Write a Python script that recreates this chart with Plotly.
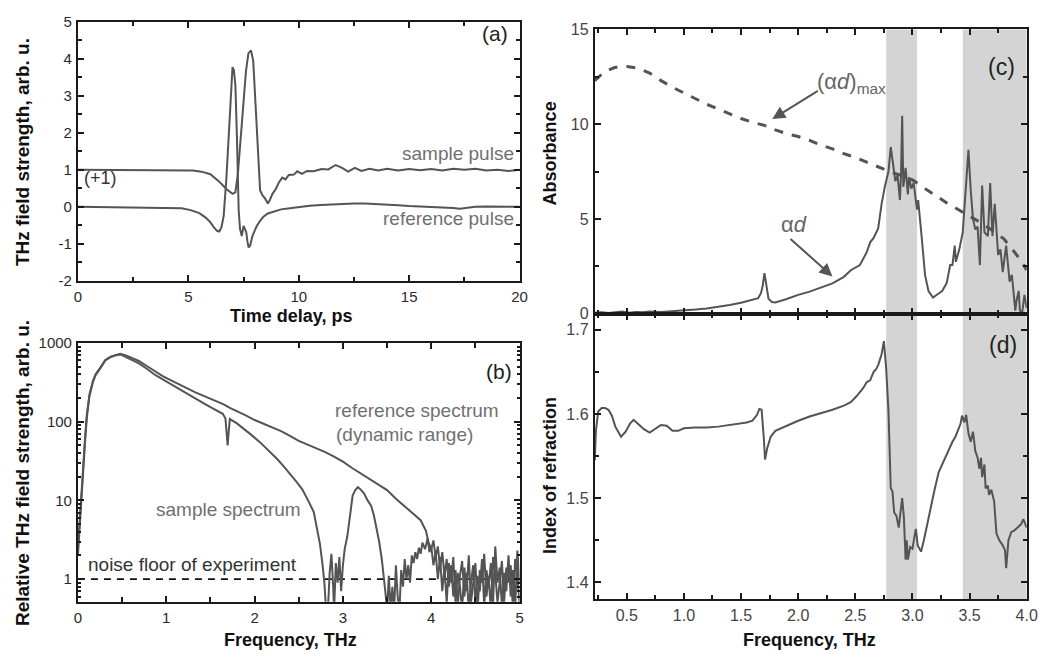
import plotly.graph_objects as go

# ---------------- panel (a): time-domain pulses ----------------
t_ref = [0, 2, 4, 4.7, 5.1, 5.5, 5.8, 6.0, 6.15, 6.3,
         6.4, 6.5, 6.6, 6.66, 6.72, 6.8, 6.87, 6.93, 7.0, 7.06,
         7.13, 7.2, 7.28, 7.34, 7.42, 7.5, 7.56, 7.62, 7.68, 7.73,
         7.8, 7.9, 8.0, 8.1, 8.25, 8.4, 8.6, 8.85, 9.2, 9.6,
         10.0, 10.5, 11.0, 11.5, 12.0, 12.5, 13.0, 13.5, 14.0, 14.5,
         15.0, 15.5, 16.0, 16.5, 17.0, 17.3, 17.6, 18.0, 18.5, 19.0,
         19.5, 20.0]
v_ref = [0.0, -0.01, -0.02, -0.04, -0.09, -0.17, -0.3, -0.42, -0.55, -0.65,
         -0.67, -0.55, -0.25, 0.2, 0.75, 1.6, 2.45, 3.3, 3.78, 3.7,
         3.3, 1.9, -0.1, -0.6, -0.79, -0.52, -0.6, -0.68, -0.95, -1.1,
         -1.05, -0.8, -0.65, -0.52, -0.38, -0.27, -0.18, -0.13, -0.07, -0.04,
         0.0, 0.03, 0.05, 0.07, 0.08, 0.09, 0.09, 0.08, 0.06, 0.04,
         0.02, 0.01, 0.0, 0.0, -0.03, -0.05, -0.02, 0.0, 0.01, 0.0,
         0.01, 0.0]

t_sam = [0, 2, 4, 4.7, 5.2, 5.6, 6.0, 6.4, 6.72, 7.0,
         7.13, 7.24, 7.34, 7.46, 7.61, 7.72, 7.84, 7.94, 8.06, 8.18,
         8.25, 8.36, 8.48, 8.6, 8.69, 8.81, 8.96, 9.1, 9.25, 9.4,
         9.55, 9.78, 9.93, 10.15, 10.37, 10.67, 11.04, 11.34, 11.67, 11.94,
         12.24, 12.54, 12.84, 13.2, 13.6, 14.0, 14.5, 15.0, 15.5, 16.0,
         16.5, 17.0, 17.5, 18.0, 18.5, 19.0, 19.5, 20.0]
v_sam = [1.0, 1.0, 1.0, 1.0, 0.98, 0.95, 0.88, 0.68, 0.48, 0.35,
         0.39, 0.87, 1.57, 2.62, 3.67, 4.15, 4.23, 3.94, 2.62, 1.14,
         0.44, 0.31, 0.22, 0.09, 0.18, 0.35, 0.48, 0.66, 0.79, 0.74,
         0.86, 0.87, 0.96, 0.89, 0.97, 0.96, 1.02, 1.01, 1.13, 1.06,
         0.95, 1.05, 0.97, 1.03, 0.98, 1.03, 0.98, 1.02, 0.99, 1.02,
         0.98, 1.03, 1.0, 1.03, 0.98, 1.0, 0.97, 1.0]

# ---------------- panel (b): spectra ----------------
spec_ref_f = [0.0, 0.02, 0.04, 0.06, 0.08, 0.1, 0.13, 0.17, 0.2, 0.25,
              0.31, 0.37, 0.43, 0.48, 0.55, 0.62, 0.69, 0.78, 0.87, 0.96,
              1.06, 1.15, 1.24, 1.33, 1.43, 1.54, 1.65, 1.72, 1.8, 1.9,
              2.0, 2.1, 2.2, 2.3, 2.4, 2.5, 2.6, 2.7, 2.8, 2.9,
              3.0, 3.1, 3.2, 3.3, 3.4, 3.5, 3.6, 3.66, 3.73, 3.8,
              3.84, 3.88, 3.91, 3.94, 3.97]
spec_ref_v = [2.5, 6, 15, 35, 60, 120, 220, 330, 400, 480,
              610, 670, 710, 730, 690, 640, 590, 510, 435, 380,
              332, 295, 263, 236, 211, 188, 166, 150, 137, 120,
              105, 95, 85, 76, 66, 57, 51, 46, 41, 36,
              31, 26, 22, 19, 16, 13.5, 10.5, 9.2, 7.9, 6.8,
              6.2, 5.6, 4.8, 4.1, 2.9]

spec_sam_f = [0.0, 0.02, 0.04, 0.06, 0.08, 0.1, 0.13, 0.17, 0.2, 0.25,
              0.31, 0.37, 0.43, 0.48, 0.55, 0.62, 0.69, 0.78, 0.87, 0.96,
              1.06, 1.15, 1.24, 1.33, 1.43, 1.5, 1.58, 1.64, 1.67, 1.685,
              1.695, 1.705, 1.72, 1.8, 1.88, 1.97, 2.06, 2.15, 2.25, 2.33,
              2.4, 2.47, 2.54, 2.58, 2.62, 2.67, 2.71, 2.74, 2.77, 2.79,
              2.81, 2.83, 2.85, 2.87, 2.89, 2.9, 2.92, 2.94, 2.96, 2.98,
              3.0, 3.02, 3.05, 3.08, 3.11, 3.14, 3.17, 3.2, 3.24, 3.28,
              3.32, 3.35, 3.38, 3.41, 3.44, 3.46, 3.48, 3.5, 3.52, 3.54,
              3.56, 3.58, 3.6, 3.62, 3.64, 3.66, 3.68, 3.7, 3.72, 3.74,
              3.76, 3.78, 3.8, 3.82, 3.84, 3.86, 3.88, 3.9, 3.93, 3.96,
              3.98]
spec_sam_v = [2.0, 5, 12, 30, 55, 110, 210, 320, 390, 470,
              600, 660, 700, 715, 660, 610, 550, 470, 395, 345,
              296, 258, 222, 195, 170, 153, 137, 126, 110, 65,
              50, 70, 108, 95, 81, 67, 55, 44, 34, 27,
              22, 17.5, 13.8, 11.5, 9.3, 7.1, 4.4, 2.8, 1.5, 0.9,
              0.4, 0.4, 1.2, 2.1, 0.8, 0.4, 1.6, 0.9, 1.9, 0.7,
              1.5, 2.4, 3.5, 7.0, 11.5, 13.5, 14.7, 13.8, 12.2, 10.0,
              8.5, 6.5, 4.5, 3.0, 1.8, 1.2, 0.7, 0.4, 1.1, 0.4,
              0.8, 0.4, 1.5, 0.6, 0.4, 1.3, 0.8, 1.8, 1.0, 1.5,
              0.9, 2.0, 1.6, 2.2, 1.8, 2.5, 2.1, 2.9, 2.4, 3.3,
              2.2]

noise_f = [4.0, 4.025, 4.05, 4.075, 4.1, 4.125, 4.15, 4.175, 4.2, 4.225,
           4.25, 4.275, 4.3, 4.325, 4.35, 4.375, 4.4, 4.425, 4.45, 4.475,
           4.5, 4.525, 4.55, 4.575, 4.6, 4.625, 4.65, 4.675, 4.7, 4.725,
           4.75, 4.775, 4.8, 4.825, 4.85, 4.875, 4.9, 4.925, 4.95, 4.975,
           5.0]
ref_noise = [2.4, 3.1, 1.9, 2.6, 1.4, 2.2, 1.1, 1.8, 0.8, 1.5,
             0.6, 1.3, 0.45, 1.1, 1.7, 0.6, 1.2, 0.4, 0.9, 1.5,
             0.5, 1.1, 0.7, 1.8, 0.45, 1.3, 0.8, 1.6, 0.5, 2.6,
             0.9, 1.4, 0.45, 1.2, 0.7, 2.0, 0.6, 1.3, 0.4, 2.3,
             0.9]
sam_noise = [2.6, 1.5, 2.2, 1.0, 1.9, 0.7, 1.4, 0.5, 1.6, 0.9,
             1.9, 0.5, 1.2, 0.8, 0.4, 1.4, 0.7, 2.0, 0.5, 1.0,
             1.6, 0.4, 1.3, 0.9, 2.1, 0.6, 1.1, 0.4, 1.9, 1.2,
             0.5, 0.9, 1.7, 0.5, 1.4, 0.9, 1.5, 0.4, 1.8, 1.1,
             0.5]
noise_floor_f = [0, 5]
noise_floor_v = [1, 1]

# ---------------- panel (c): absorbance ----------------
ad_f = [0.22, 0.28, 0.34, 0.4, 0.46, 0.52, 0.58, 0.64, 0.7, 0.8,
        0.9, 1.0, 1.1, 1.2, 1.3, 1.4, 1.5, 1.6, 1.65, 1.675,
        1.69, 1.705, 1.72, 1.74, 1.77, 1.8, 1.9, 2.0, 2.1, 2.2,
        2.3, 2.4, 2.46, 2.54, 2.6, 2.63, 2.66, 2.7, 2.73, 2.76,
        2.79, 2.81, 2.83, 2.85, 2.87, 2.89, 2.9, 2.91, 2.92, 2.94,
        2.96, 2.97, 2.99, 3.01, 3.04, 3.05, 3.08, 3.11, 3.14, 3.18,
        3.22, 3.26, 3.3, 3.33, 3.35, 3.37, 3.38, 3.41, 3.44, 3.47,
        3.49, 3.51, 3.53, 3.55, 3.57, 3.59, 3.61, 3.63, 3.66, 3.68,
        3.7, 3.72, 3.75, 3.77, 3.79, 3.82, 3.85, 3.87, 3.9, 3.91,
        3.93, 3.94, 3.96, 3.98, 4.0]
ad_v = [0.05, 0.08, 0.04, 0.07, 0.12, 0.06, 0.1, 0.08, 0.12, 0.1,
        0.13, 0.17, 0.22, 0.28, 0.36, 0.46, 0.58, 0.72, 0.82, 1.1,
        1.5, 2.15, 1.5, 0.8, 0.62, 0.6, 0.78, 1.0, 1.17, 1.38,
        1.6, 1.95, 2.3, 2.57, 3.25, 3.77, 4.0, 4.5, 5.8, 6.76,
        7.5, 8.8, 7.9, 7.0, 7.3, 6.0, 7.36, 10.45, 6.7, 7.7,
        6.3, 7.2, 6.6, 6.9, 5.5, 6.0, 4.1, 2.05, 1.2, 0.86,
        1.03, 1.2, 1.63, 2.57, 2.57, 3.6, 2.74, 3.4, 4.3, 6.7,
        8.65, 6.5, 5.0, 4.45, 4.6, 2.57, 6.76, 4.3, 4.1, 6.9,
        4.1, 5.8, 3.1, 3.4, 2.2, 3.6, 1.7, 2.05, 0.17, 0.68,
        1.2, 0.17, 0.05, 1.0, 0.3]

admax_f = [0.22, 0.3, 0.4, 0.5, 0.6, 0.7, 0.8, 0.9, 1.0, 1.1,
           1.2, 1.3, 1.4, 1.5, 1.6, 1.7, 1.8, 1.9, 2.0, 2.1,
           2.2, 2.3, 2.4, 2.5, 2.6, 2.7, 2.8, 2.9, 3.0, 3.1,
           3.2, 3.3, 3.4, 3.5, 3.6, 3.7, 3.8, 3.9, 3.95, 4.0]
admax_v = [12.3, 12.75, 13.0, 13.05, 12.95, 12.7, 12.3, 11.95, 11.65, 11.35,
           11.05, 10.8, 10.55, 10.3, 10.1, 9.95, 9.7, 9.5, 9.35, 9.15,
           8.9, 8.7, 8.45, 8.25, 8.0, 7.75, 7.5, 7.3, 7.06, 6.65,
           6.25, 5.85, 5.5, 5.15, 4.8, 4.4, 3.95, 3.2, 2.8, 2.3]

# ---------------- panel (d): refractive index ----------------
n_f = [0.22, 0.23, 0.25, 0.28, 0.31, 0.34, 0.37, 0.4, 0.45, 0.49,
       0.53, 0.56, 0.6, 0.65, 0.7, 0.75, 0.8, 0.85, 0.9, 0.95,
       1.0, 1.1, 1.2, 1.3, 1.4, 1.5, 1.55, 1.6, 1.64, 1.66,
       1.68, 1.7, 1.71, 1.73, 1.76, 1.8, 1.9, 2.0, 2.1, 2.2,
       2.3, 2.4, 2.46, 2.51, 2.57, 2.6, 2.63, 2.66, 2.68, 2.7,
       2.73, 2.75, 2.77, 2.79, 2.8, 2.81, 2.825, 2.84, 2.86, 2.88,
       2.89, 2.91, 2.925, 2.94, 2.95, 2.96, 2.98, 3.0, 3.017, 3.03,
       3.046, 3.075, 3.1, 3.146, 3.19, 3.23, 3.29, 3.35, 3.376, 3.4,
       3.42, 3.434, 3.454, 3.47, 3.49, 3.51, 3.53, 3.55, 3.57, 3.586,
       3.6, 3.61, 3.63, 3.64, 3.66, 3.67, 3.69, 3.715, 3.735, 3.76,
       3.79, 3.81, 3.82, 3.84, 3.865, 3.89, 3.92, 3.95, 3.97, 4.0]
n_v = [1.545, 1.58, 1.603, 1.607, 1.607, 1.605, 1.598, 1.585, 1.573, 1.579,
       1.589, 1.593, 1.588, 1.582, 1.578, 1.582, 1.587, 1.586, 1.58, 1.58,
       1.583, 1.584, 1.584, 1.585, 1.587, 1.589, 1.590, 1.592, 1.599, 1.606,
       1.605, 1.57, 1.546, 1.56, 1.573, 1.58, 1.586, 1.592, 1.597, 1.601,
       1.605, 1.61, 1.614, 1.621, 1.631, 1.638, 1.64, 1.65, 1.653, 1.658,
       1.671, 1.6865, 1.654, 1.604, 1.554, 1.512, 1.508, 1.483, 1.479, 1.465,
       1.477, 1.50, 1.477, 1.427, 1.45, 1.427, 1.442, 1.44, 1.454, 1.4635,
       1.444, 1.4365, 1.45, 1.481, 1.508, 1.531, 1.55, 1.567, 1.573, 1.581,
       1.588, 1.598, 1.590, 1.599, 1.577, 1.567, 1.579, 1.556, 1.548, 1.535,
       1.548, 1.525, 1.54, 1.5115, 1.515, 1.504, 1.51, 1.496, 1.458, 1.45,
       1.444, 1.438, 1.417, 1.45, 1.46, 1.4615, 1.465, 1.469, 1.475, 1.465]

bands = [(2.77, 3.04), (3.44, 4.0)]

# ---------------- figure ----------------
W, H = 1054, 663
LINE = '#545454'
AX = '#1a1a1a'
LBL = '#707070'

fig = go.Figure()
lw = 2
fig.add_trace(go.Scatter(x=t_sam, y=v_sam, mode='lines', line=dict(color=LINE, width=lw), xaxis='x', yaxis='y'))
fig.add_trace(go.Scatter(x=t_ref, y=v_ref, mode='lines', line=dict(color=LINE, width=lw), xaxis='x', yaxis='y'))

fig.add_trace(go.Scatter(x=noise_floor_f, y=noise_floor_v, mode='lines',
                         line=dict(color='#111', width=1.6, dash='7px,6px'), xaxis='x2', yaxis='y2'))
fig.add_trace(go.Scatter(x=spec_ref_f + noise_f, y=spec_ref_v + ref_noise, mode='lines',
                         line=dict(color=LINE, width=lw), xaxis='x2', yaxis='y2'))
fig.add_trace(go.Scatter(x=spec_sam_f + noise_f, y=spec_sam_v + sam_noise, mode='lines',
                         line=dict(color=LINE, width=lw), xaxis='x2', yaxis='y2'))

fig.add_trace(go.Scatter(x=admax_f, y=admax_v, mode='lines',
                         line=dict(color=LINE, width=3, dash='9px,9px'), xaxis='x3', yaxis='y3'))
fig.add_trace(go.Scatter(x=ad_f, y=ad_v, mode='lines', line=dict(color=LINE, width=lw), xaxis='x3', yaxis='y3'))

fig.add_trace(go.Scatter(x=n_f, y=n_v, mode='lines', line=dict(color=LINE, width=lw), xaxis='x4', yaxis='y4'))

def dom_x(a, b):
    return [a / W, b / W]

def dom_y(top, bottom):
    return [1 - bottom / H, 1 - top / H]

tick_ab = dict(family='Liberation Sans, Arial, sans-serif', size=15, color='#2a2a2a')
tick_cd = dict(family='Liberation Sans Narrow, Arial Narrow, Liberation Sans, Arial, sans-serif', size=16, color='#444')

def ax_common(font):
    return dict(showline=True, linecolor=AX, linewidth=2, mirror='ticks', ticks='inside',
                ticklen=6, tickwidth=1.5, tickcolor=AX, showgrid=False, zeroline=False,
                tickfont=font, ticklabelstandoff=1)

fig.update_layout(
    width=W, height=H, margin=dict(l=0, r=0, t=0, b=0),
    paper_bgcolor='white', plot_bgcolor='white', showlegend=False,
    xaxis=dict(domain=dom_x(75, 523), anchor='y', range=[0, 20], tickvals=[0, 5, 10, 15, 20],
               minor=dict(ticks='inside', dtick=2.5, ticklen=4, tickcolor=AX), **ax_common(tick_ab)),
    yaxis=dict(domain=dom_y(13.3, 279.3), anchor='x', range=[-2, 5],
               tickvals=[-2, -1, 0, 1, 2, 3, 4, 5], ticktext=['-2', '-1', '0', '1', '2', '3', '4', '5'],
               minor=dict(ticks='inside', dtick=0.5, ticklen=4, tickcolor=AX), **ax_common(tick_ab)),
    xaxis2=dict(domain=dom_x(75, 523), anchor='y2', range=[0, 5], tickvals=[0, 1, 2, 3, 4, 5],
                minor=dict(ticks='inside', dtick=0.5, ticklen=5, tickcolor=AX), **ax_common(tick_ab)),
    yaxis2=dict(domain=dom_y(343.3, 609.3), anchor='x2', type='log', range=[-0.288, 3],
                tickvals=[1, 10, 100, 1000], ticktext=['1', '10', '100', '1000'],
                minor=dict(ticks='inside', ticklen=3, tickcolor=AX,
                           tickvals=[0.6, 0.7, 0.8, 0.9, 2, 3, 4, 5, 6, 7, 8, 9,
                                     20, 30, 40, 50, 60, 70, 80, 90,
                                     200, 300, 400, 500, 600, 700, 800, 900]),
                **ax_common(tick_ab)),
    xaxis3=dict(domain=dom_x(599.3, 1037.5), anchor='y3', range=[0.22, 4.0], tick0=0, dtick=0.5,
                showticklabels=False,
                minor=dict(ticks='inside', dtick=0.25, ticklen=4, tickcolor=AX), **ax_common(tick_cd)),
    yaxis3=dict(domain=dom_y(21, 313.3), anchor='x3', range=[0, 15], tickvals=[0, 5, 10, 15],
                minor=dict(ticks='inside', dtick=2.5, ticklen=4, tickcolor=AX), **ax_common(tick_cd)),
    xaxis4=dict(domain=dom_x(599.3, 1037.5), anchor='y4', range=[0.22, 4.0], tick0=0, dtick=0.5,
                tickformat='.1f',
                minor=dict(ticks='inside', dtick=0.25, ticklen=4, tickcolor=AX), **ax_common(tick_cd)),
    yaxis4=dict(domain=dom_y(313.3, 606.7), anchor='x4', range=[1.38, 1.719],
                tickvals=[1.4, 1.5, 1.6, 1.7], ticktext=['1.4', '1.5', '1.6', '1.7'],
                minor=dict(ticks='inside', dtick=0.05, ticklen=4, tickcolor=AX), **ax_common(tick_cd)),
)

shapes = []
for (x0, x1) in bands:
    for yr in ['y3 domain', 'y4 domain']:
        xr = 'x3' if yr.startswith('y3') else 'x4'
        shapes.append(dict(type='rect', xref=xr, yref=yr, x0=x0, x1=x1, y0=0, y1=1,
                           fillcolor='#d4d4d4', line=dict(width=0), layer='below'))
fig.update_layout(shapes=shapes)

FT = 'Liberation Sans, Arial, sans-serif'
ann = []

def paper_text(text, x, y, size, color='#111', angle=0, bold=False, xanchor='center'):
    t = f'<b>{text}</b>' if bold else text
    ann.append(dict(text=t, x=x / W, y=1 - y / H, xref='paper', yref='paper', showarrow=False,
                    textangle=angle, xanchor=xanchor, yanchor='middle',
                    font=dict(family=FT, size=size, color=color)))

# axis titles
paper_text('THz field strength, arb. u.', 18.6, 146.7, 19, angle=-90, bold=True)
paper_text('Time delay, ps', 291, 316, 18, bold=True)
paper_text('Relative THz field strength, arb. u.', 18.6, 476.7, 19, angle=-90, bold=True)
paper_text('Frequency, THz', 291, 649, 18, bold=True)
paper_text('Absorbance', 554, 148.3, 18, angle=-90, bold=True)
paper_text('Index of refraction', 554, 480, 18, angle=-90, bold=True)
paper_text('Frequency, THz', 817, 649, 18, bold=True)

# panel letters
paper_text('(a)', 497.8, 25, 21, color='#222')
paper_text('(b)', 502, 372.7, 21, color='#222')
paper_text('(c)', 1011.5, 60, 23, color='#222')
paper_text('(d)', 1013, 345, 23, color='#222')

def data_text(text, x, y, xr, yr, size, color=LBL, xanchor='left'):
    ann.append(dict(text=text, x=x, y=y, xref=xr, yref=yr, showarrow=False,
                    xanchor=xanchor, yanchor='middle', font=dict(family=FT, size=size, color=color)))

data_text('sample pulse', 19.84, 1.447, 'x', 'y', 19, xanchor='right')
data_text('reference pulse', 19.84, -0.33, 'x', 'y', 19, xanchor='right')
data_text('(+1)', 0.2, 0.77, 'x', 'y', 18, color='#333')

data_text('reference spectrum', 2.89, 2.136, 'x2', 'y2', 19)
data_text('(dynamic range)', 2.9, 1.835, 'x2', 'y2', 19)
data_text('sample spectrum', 0.863, 0.889, 'x2', 'y2', 19)
data_text('noise floor of experiment', 0.089, 0.18, 'x2', 'y2', 19, color='#333')

data_text('(α<i>d</i>)<sub>max</sub>', 2.468, 12.2, 'x3', 'y3', 22, color='#666', xanchor='center')
data_text('α<i>d</i>', 1.964, 4.7, 'x3', 'y3', 22, color='#666', xanchor='center')

for (hx, hy, tx, ty) in [(1.773, 10.27, 2.185, 11.81), (2.30, 1.97, 1.92, 4.02)]:
    ann.append(dict(text='', x=hx, y=hy, ax=tx, ay=ty, xref='x3', yref='y3', axref='x3', ayref='y3',
                    showarrow=True, arrowhead=2, arrowsize=1.3, arrowwidth=2, arrowcolor='#555'))

fig.update_layout(annotations=ann)
fig.write_html('out.html')
